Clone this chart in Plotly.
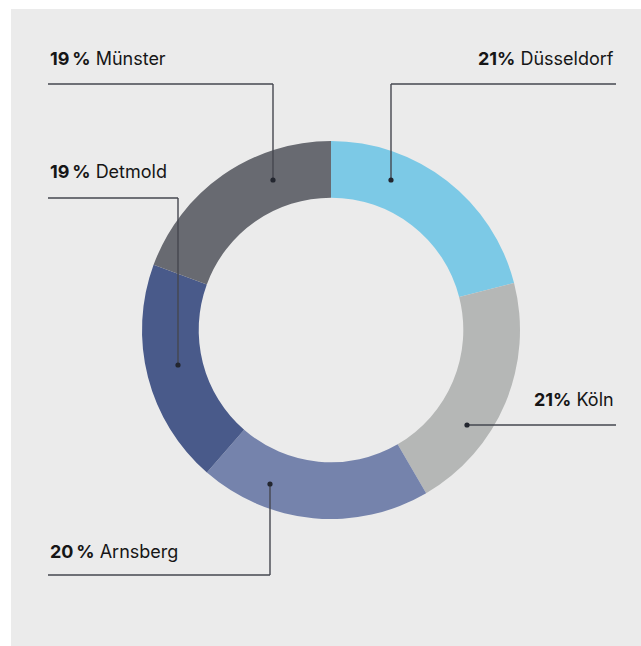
import plotly.graph_objects as go

# ---- data ----
regions = ["Düsseldorf", "Köln", "Arnsberg", "Detmold", "Münster"]
shares = [21.0, 20.6, 19.8, 19.2, 19.4]
share_labels = ["21%", "21%", "20\u2009%", "19\u2009%", "19\u2009%"]

# ---- styles ----
colors = ["#7cc9e6", "#b5b7b6", "#7583ac", "#495a8a", "#686a71"]
W, H = 641, 646
CX, CY, R_OUT, HOLE = 331, 330, 189, 0.70
PANEL = "#ebebeb"
LINE = "#45474f"
DOT = "#23262f"
FONT = "Inter"
FS = 18

# label layout (pixel positions): text anchor, text y centre, connector polyline
label_layout = {
    "Münster":    dict(tx=48,  ty=59,  anchor="left",  path=[(48, 84), (273, 84), (273, 180)]),
    "Detmold":    dict(tx=48,  ty=172, anchor="left",  path=[(48, 198), (178, 198), (178, 365)]),
    "Arnsberg":   dict(tx=48,  ty=551, anchor="left",  path=[(48, 575), (270, 575), (270, 484)]),
    "Düsseldorf": dict(tx=616, ty=59,  anchor="right", path=[(616, 84), (391, 84), (391, 180)]),
    "Köln":       dict(tx=616, ty=399, anchor="right", path=[(616, 425), (467, 425)]),
}


def px(x):
    return x / W


def py(y):
    return 1 - y / H


fig = go.Figure()
fig.add_trace(go.Pie(
    labels=regions,
    values=shares,
    hole=HOLE,
    sort=False,
    direction="clockwise",
    rotation=0,
    marker=dict(colors=colors, line=dict(width=0)),
    textinfo="none",
    hoverinfo="label+percent",
    showlegend=False,
    domain=dict(x=[px(CX - R_OUT), px(CX + R_OUT)], y=[py(CY + R_OUT), py(CY - R_OUT)]),
))

shapes = [dict(type="rect", xref="paper", yref="paper", x0=px(11), x1=1, y0=0, y1=py(9),
               fillcolor=PANEL, line=dict(width=0), layer="below")]
annotations = []
for name, share in zip(regions, share_labels):
    lay = label_layout[name]
    pts = lay["path"]
    for (x0, y0), (x1, y1) in zip(pts[:-1], pts[1:]):
        shapes.append(dict(type="line", xref="paper", yref="paper",
                           x0=px(x0), y0=py(y0), x1=px(x1), y1=py(y1),
                           line=dict(color=LINE, width=1.4), layer="above"))
    dx, dy = pts[-1]
    r = 2.6
    shapes.append(dict(type="circle", xref="paper", yref="paper",
                       x0=px(dx - r), x1=px(dx + r), y0=py(dy + r), y1=py(dy - r),
                       fillcolor=DOT, line=dict(width=0), layer="above"))
    annotations.append(dict(
        x=px(lay["tx"]), y=py(lay["ty"]), xref="paper", yref="paper",
        xanchor=lay["anchor"], yanchor="middle", showarrow=False,
        text=f"<b>{share}</b> {name}",
        font=dict(family=FONT, size=FS, color="#161616"),
    ))

fig.update_layout(
    width=W, height=H,
    margin=dict(l=0, r=0, t=0, b=0),
    paper_bgcolor="white",
    plot_bgcolor="white",
    shapes=shapes,
    annotations=annotations,
)

fig.write_html(
    "out.html",
    config={"displayModeBar": False},
    post_script="document.body.style.margin='0';document.body.style.overflow='hidden';",
)
